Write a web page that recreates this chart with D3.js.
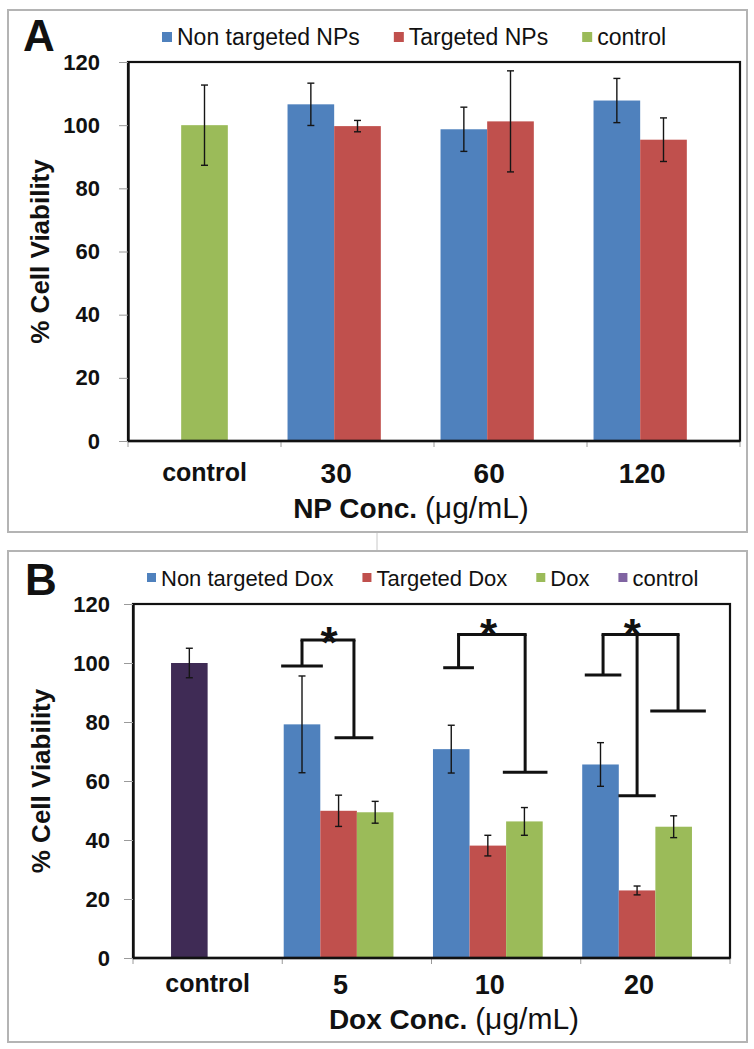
<!DOCTYPE html>
<html>
<head>
<meta charset="utf-8">
<script src="https://cdn.jsdelivr.net/npm/d3@7"></script>
<style>
  html, body { margin: 0; padding: 0; background: #fff; }
  svg { display: block; }
</style>
</head>
<body>
<svg id="chart" width="754" height="1049"></svg>
<script>
// ---------------- Panel A data ----------------
const catsA = ["control", "30", "60", "120"];
const nonTargetedNPs    = [null, 106.6, 98.7, 107.8];
const nonTargetedNPsErr = [null, 6.7, 7.0, 7.0];
const targetedNPs       = [null, 99.7, 101.2, 95.4];
const targetedNPsErr    = [null, 1.8, 16.0, 6.9];
const controlA          = [100.0, null, null, null];
const controlAErr       = [12.7, null, null, null];

// ---------------- Panel B data ----------------
const catsB = ["control", "5", "10", "20"];
const nonTargetedDox    = [null, 79.2, 70.8, 65.6];
const nonTargetedDoxErr = [null, 16.4, 8.1, 7.4];
const targetedDox       = [null, 49.9, 38.1, 22.9];
const targetedDoxErr    = [null, 5.3, 3.5, 1.5];
const dox               = [null, 49.4, 46.3, 44.5];
const doxErr            = [null, 3.7, 4.7, 3.7];
const controlB          = [100.0, null, null, null];
const controlBErr       = [5.0, null, null, null];

const yTicks = [0, 20, 40, 60, 80, 100, 120];

// significance brackets in panel B (slot units within group, values in % viability)
const bracketsB = [
  { cat: "5",  top: 107.8, legs: [{ s: 0.50, y: 99.0, hw: 0.57 }, { s: 1.92, y: 74.7, hw: 0.53 }], star: { s: 1.24, y: 110.0 } },
  { cat: "10", top: 109.7, legs: [{ s: 0.70, y: 98.4, hw: 0.42 }, { s: 2.52, y: 63.0, hw: 0.61 }], star: { s: 1.52, y: 112.6 } },
  { cat: "20", top: 109.7, legs: [{ s: 0.57, y: 95.9, hw: 0.50 }, { s: 1.50, y: 55.0, hw: 0.51 }, { s: 2.62, y: 83.7, hw: 0.76 }], star: { s: 1.37, y: 112.6 } }
];

// ---------------- drawing ----------------
const FONT = "'Liberation Sans', Arial, Helvetica, sans-serif";
const C_BLUE = "#4f81bd", C_RED = "#c0504d", C_GREEN = "#9bbb59", C_PURPLE_BAR = "#3f2b55", C_PURPLE_LEG = "#8064a2";
const svg = d3.select("#chart");

function drawPanel(p) {
  const g = svg.append("g");
  // outer frame
  g.append("rect").attr("x", p.frame[0]).attr("y", p.frame[1])
    .attr("width", p.frame[2] - p.frame[0]).attr("height", p.frame[3] - p.frame[1])
    .attr("fill", "none").attr("stroke", "#b4b4b4").attr("stroke-width", 2);

  const x = d3.scaleBand().domain(p.cats).range([p.x0, p.x1]).paddingInner(0).paddingOuter(0);
  const sub = d3.scaleBand().domain(d3.range(p.nSlots)).range([0, x.bandwidth()]).paddingInner(0).paddingOuter(p.subPad);
  const y = d3.scaleLinear().domain([0, 120]).range([p.y1, p.y0]);

  // bars
  p.series.forEach(s => {
    s.vals.forEach((v, i) => {
      if (v == null) return;
      const bx = x(p.cats[i]) + sub(s.slot);
      g.append("rect").attr("x", bx).attr("y", y(v))
        .attr("width", sub.bandwidth()).attr("height", y(0) - y(v))
        .attr("fill", s.barColor || s.color);
    });
  });
  // error bars
  p.series.forEach(s => {
    s.vals.forEach((v, i) => {
      if (v == null) return;
      const e = s.errs[i];
      const cx = x(p.cats[i]) + sub(s.slot) + sub.bandwidth() / 2;
      const eg = g.append("g").attr("stroke", "#151515").attr("stroke-width", 1.4);
      eg.append("line").attr("x1", cx).attr("x2", cx).attr("y1", y(v + e)).attr("y2", y(v - e));
      [v + e, v - e].forEach(t => eg.append("line").attr("x1", cx - 3.5).attr("x2", cx + 3.5).attr("y1", y(t)).attr("y2", y(t)));
    });
  });

  // plot frame (top & right border)
  g.append("rect").attr("x", p.x0).attr("y", p.y0).attr("width", p.x1 - p.x0).attr("height", p.y1 - p.y0)
    .attr("fill", "none").attr("stroke", "#111").attr("stroke-width", 2.2);

  // y axis
  const ya = g.append("g").attr("transform", `translate(${p.x0},0)`)
    .call(d3.axisLeft(y).tickValues(yTicks).tickSize(9).tickSizeOuter(0).tickPadding(p.tickPad));
  ya.select(".domain").attr("stroke", "#111").attr("stroke-width", 2.4);
  ya.selectAll(".tick line").attr("stroke", "#9a9a9a").attr("stroke-width", 1);
  ya.selectAll(".tick text").attr("font-family", FONT).attr("font-weight", "bold")
    .attr("font-size", 22).attr("fill", "#111");

  // x axis ticks at category boundaries
  const bounds = p.cats.map(c => x(c)).concat([p.x1]);
  bounds.forEach(bx => g.append("line").attr("x1", bx).attr("x2", bx).attr("y1", p.y1).attr("y2", p.y1 + 6)
    .attr("stroke", "#9a9a9a").attr("stroke-width", 1));
  g.append("line").attr("x1", p.x0).attr("x2", p.x1).attr("y1", p.y1).attr("y2", p.y1)
    .attr("stroke", "#111").attr("stroke-width", 2.4);

  // x category labels
  p.cats.forEach((c, i) => {
    let cx;
    if (c === "control") {
      cx = x(c) + x.bandwidth() / 2;
    } else {
      const slots = p.series.filter(s => s.vals[i] != null).map(s => s.slot);
      const lo = x(c) + sub(d3.min(slots));
      const hi = x(c) + sub(d3.max(slots)) + sub.bandwidth();
      cx = (lo + hi) / 2 + 2;
    }
    g.append("text").attr("x", cx).attr("y", c === "control" ? p.catBase - 2 : p.catBase)
      .attr("text-anchor", "middle").attr("font-family", FONT).attr("font-weight", "bold")
      .attr("font-size", c === "control" ? 25 : p.numFont).attr("fill", "#111").text(c);
  });

  // y title
  g.append("text").attr("transform", `translate(${p.yTitleX},${(p.y0 + p.y1) / 2}) rotate(-90)`)
    .attr("text-anchor", "middle").attr("font-family", FONT).attr("font-weight", "bold")
    .attr("font-size", 26).attr("fill", "#111").text("% Cell Viability");

  // x title
  const xt = g.append("text").attr("x", p.xTitleX).attr("y", p.xTitleBase).attr("text-anchor", "middle")
    .attr("font-family", FONT).attr("fill", "#111");
  xt.append("tspan").attr("font-weight", "bold").attr("font-size", 28).text(p.xTitle + " ");
  xt.append("tspan").attr("font-weight", "normal").attr("font-size", 30).text("(\u03bcg/mL)");

  // panel letter
  g.append("text").attr("x", p.letterX).attr("y", p.letterBase).attr("font-family", FONT)
    .attr("font-weight", "bold").attr("font-size", 44).attr("fill", "#111").text(p.letter);

  // legend
  let lx = p.legX;
  p.legend.forEach(s => {
    g.append("rect").attr("x", lx).attr("y", p.legBase - 13).attr("width", p.legSq).attr("height", p.legSq)
      .attr("fill", s.color);
    const t = g.append("text").attr("x", lx + p.legSq + 5).attr("y", p.legBase)
      .attr("font-family", FONT).attr("font-size", p.legFont).attr("fill", "#111").text(s.name);
    lx += p.legSq + 5 + t.node().getComputedTextLength() + p.legGap;
  });

  return { g, x, sub, y };
}

// Panel A
const seriesA = [
  { name: "Non targeted NPs", vals: nonTargetedNPs, errs: nonTargetedNPsErr, color: C_BLUE, slot: 0 },
  { name: "Targeted NPs", vals: targetedNPs, errs: targetedNPsErr, color: C_RED, slot: 1 },
  { name: "control", vals: controlA, errs: controlAErr, color: C_GREEN, slot: 1 }
];
drawPanel({
  frame: [8, 10, 747, 532],
  cats: catsA, nSlots: 3, subPad: 0.14,
  x0: 128, x1: 740, y0: 62, y1: 441,
  series: seriesA, legend: seriesA,
  tickPad: 19, catBase: 483, numFont: 28, yTitleX: 49,
  xTitle: "NP Conc.", xTitleX: 411, xTitleBase: 518,
  letter: "A", letterX: 23, letterBase: 51,
  legX: 162, legBase: 45, legSq: 10, legFont: 23, legGap: 34
});

// Panel B
const seriesB = [
  { name: "Non targeted Dox", vals: nonTargetedDox, errs: nonTargetedDoxErr, color: C_BLUE, slot: 0 },
  { name: "Targeted Dox", vals: targetedDox, errs: targetedDoxErr, color: C_RED, slot: 1 },
  { name: "Dox", vals: dox, errs: doxErr, color: C_GREEN, slot: 2 },
  { name: "control", vals: controlB, errs: controlBErr, color: C_PURPLE_LEG, barColor: C_PURPLE_BAR, slot: 1 }
];
const pb = drawPanel({
  frame: [8, 551, 747, 1042],
  cats: catsB, nSlots: 4, subPad: 0.04,
  x0: 133, x1: 730, y0: 604, y1: 958,
  series: seriesB, legend: seriesB,
  tickPad: 14, catBase: 994, numFont: 27, yTitleX: 50,
  xTitle: "Dox Conc.", xTitleX: 454, xTitleBase: 1029,
  letter: "B", letterX: 25, letterBase: 595,
  legX: 147, legBase: 586, legSq: 9, legFont: 22, legGap: 29
});

// brackets + stars
const step = pb.sub.step();
const sx = (cat, s) => pb.x(cat) + pb.sub(0) + s * step;
bracketsB.forEach(b => {
  const bg = pb.g.append("g").attr("stroke", "#111").attr("stroke-width", 3).attr("fill", "none");
  const ss = b.legs.map(l => l.s);
  bg.append("line").attr("x1", sx(b.cat, d3.min(ss)) - 1.5).attr("x2", sx(b.cat, d3.max(ss)) + 1.5)
    .attr("y1", pb.y(b.top)).attr("y2", pb.y(b.top));
  b.legs.forEach(l => {
    bg.append("line").attr("x1", sx(b.cat, l.s)).attr("x2", sx(b.cat, l.s))
      .attr("y1", pb.y(b.top)).attr("y2", pb.y(l.y));
    bg.append("line").attr("x1", sx(b.cat, l.s - l.hw)).attr("x2", sx(b.cat, l.s + l.hw))
      .attr("y1", pb.y(l.y)).attr("y2", pb.y(l.y));
  });
  pb.g.append("text").attr("x", sx(b.cat, b.star.s)).attr("y", pb.y(b.star.y)).attr("dy", "0.55em")
    .attr("text-anchor", "middle").attr("font-family", FONT).attr("font-weight", "bold")
    .attr("font-size", 44).attr("fill", "#111").text("*");
});

// small gray connector between panels
svg.append("line").attr("x1", 377).attr("x2", 377).attr("y1", 533).attr("y2", 550)
  .attr("stroke", "#c8c8c8").attr("stroke-width", 1);
</script>
</body>
</html>
